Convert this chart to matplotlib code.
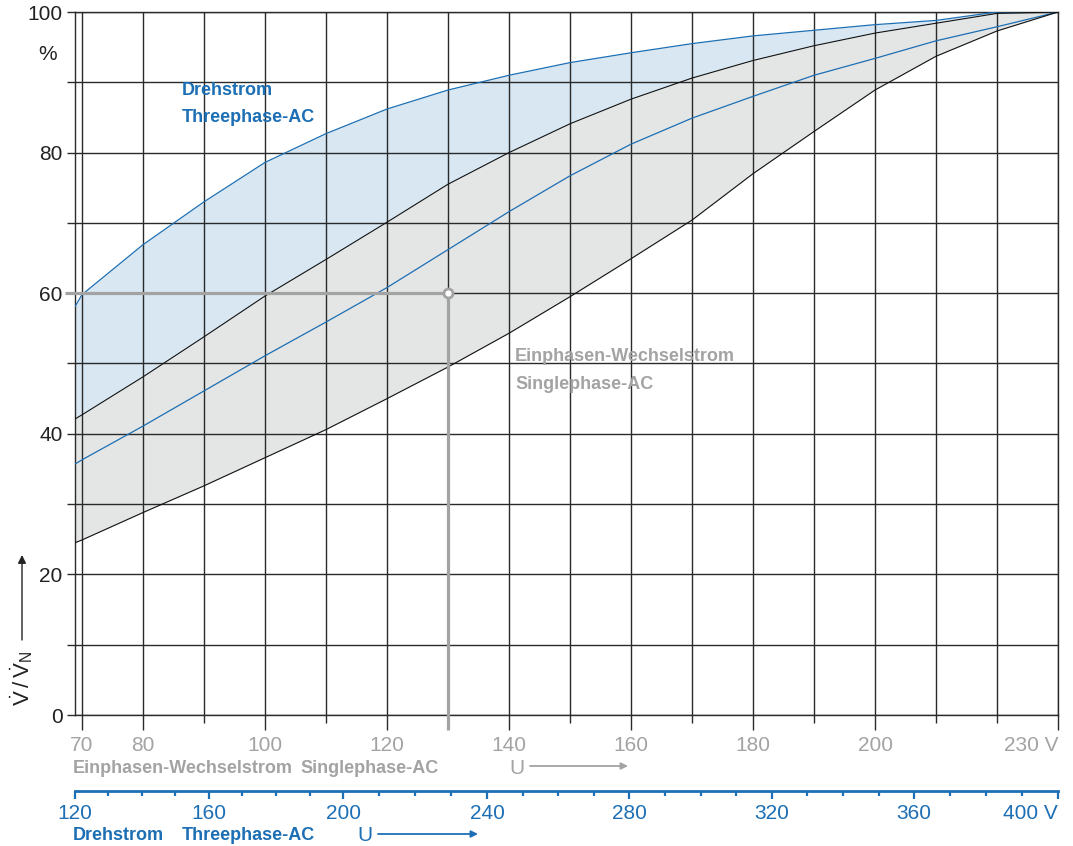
import numpy as np
import matplotlib
matplotlib.use("Agg")
import matplotlib.pyplot as plt
from matplotlib.ticker import FixedLocator, NullFormatter

plt.rcParams['font.family'] = ['Liberation Sans', 'DejaVu Sans']
plt.rcParams['mathtext.fontset'] = 'custom'
plt.rcParams['mathtext.rm'] = 'Liberation Sans'

# single-phase voltage (V); first point is the left edge of the chart
u = [68.85, 70, 80, 90, 100, 110, 120, 130, 140, 150, 160, 170, 180, 190, 200, 210, 220, 230]
dreh_upper = [58.1, 59.8, 66.9, 73.0, 78.6, 82.7, 86.2, 88.9, 91.0, 92.8, 94.2, 95.5, 96.6, 97.4, 98.2, 98.8, 100, 100]
dreh_lower = [35.7, 36.3, 41.1, 46.1, 51.1, 55.9, 60.8, 66.2, 71.6, 76.7, 81.2, 84.9, 88.0, 91.0, 93.4, 95.9, 97.9, 100]
ein_upper = [42.1, 42.7, 48.1, 53.8, 59.6, 64.8, 70.1, 75.5, 80.0, 84.1, 87.6, 90.6, 93.1, 95.2, 97.0, 98.4, 99.8, 100]
ein_lower = [24.5, 24.9, 28.8, 32.6, 36.6, 40.6, 45.0, 49.5, 54.3, 59.5, 64.9, 70.4, 77.0, 83.0, 88.9, 93.7, 97.3, 100]

# example reading
ref_u = 130
ref_pct = 60

u_major = [70, 80, 100, 120, 140, 160, 180, 200, 230]
u_labels = ['70', '80', '100', '120', '140', '160', '180', '200', '230 V']
u_minor = [90, 110, 130, 150, 170, 190, 210, 220]
dreh_ticks = [120, 160, 200, 240, 280, 320, 360, 400]
dreh_labels = ['120', '160', '200', '240', '280', '320', '360', '400 V']
dreh_pos = [68.85, 90.8, 112.8, 136.4, 159.7, 183.1, 206.4, 230]  # on single-phase scale
dreh_minor = list(range(130, 400, 10))

blue = '#1c6fb4'
gray = '#a3a3a3'
grid = '#2a2a2a'
W, H = 1073, 846
bold_size = 13

fig = plt.figure(figsize=(W / 100, H / 100), dpi=100)
ax = fig.add_axes([75 / W, 1 - 715 / H, (1058 - 75) / W, (715 - 12) / H])
ax.set_xlim(u[0], u[-1])
ax.set_ylim(0, 100)

ax.fill_between(u, ein_upper, dreh_upper, color='#d8e7f2', lw=0, zorder=0)
ax.fill_between(u, ein_lower, ein_upper, color='#e4e5e5', lw=0, zorder=0)
ax.plot(u, dreh_upper, color=blue, lw=0.9, zorder=3)
ax.plot(u, dreh_lower, color=blue, lw=0.9, zorder=3)
ax.plot(u, ein_upper, color='#111111', lw=0.8, zorder=3)
ax.plot(u, ein_lower, color='#111111', lw=0.8, zorder=3)

ax.set_axisbelow(True)
ax.set_xticks(u_major, u_labels)
ax.xaxis.set_minor_locator(FixedLocator(u_minor))
ax.set_yticks(range(0, 101, 20))
ax.yaxis.set_minor_locator(FixedLocator(range(10, 100, 20)))
ax.grid(True, which='both', color=grid, lw=1.0)
ax.tick_params(axis='x', which='major', length=11, width=1.0, color=grid, labelcolor=gray,
               labelsize=15, pad=4)
ax.tick_params(axis='x', which='minor', length=5.5, width=1.0, color=grid)
ax.tick_params(axis='y', which='both', length=6, width=1.0, color=grid, labelcolor='#222222',
               labelsize=15, pad=3)
for lab in ax.get_xticklabels():
    if lab.get_text().endswith('V'):
        lab.set_horizontalalignment('right')
for s in ax.spines.values():
    s.set_color(grid)
    s.set_linewidth(1.0)

# reference lines
x0 = u[0] - 10 / 6.1
ax.plot([x0, ref_u], [ref_pct, ref_pct], color=gray, lw=2.3, clip_on=False, zorder=4,
        solid_capstyle='butt')
ax.plot([ref_u, ref_u], [ref_pct, -2.2], color=gray, lw=2.3, clip_on=False, zorder=4,
        solid_capstyle='butt')
ax.plot([ref_u], [ref_pct], marker='o', ms=6.5, mfc='white', mec=gray, mew=2, zorder=5)

# three-phase scale
def to3(x):
    return np.interp(x, dreh_pos, dreh_ticks)

def to1(x):
    return np.interp(x, dreh_ticks, dreh_pos)

sec = ax.secondary_xaxis((715 - 791) / (715 - 12), functions=(to3, to1))
sec.set_xticks(dreh_ticks, dreh_labels)
sec.xaxis.set_minor_locator(FixedLocator(dreh_minor))
sec.xaxis.set_minor_formatter(NullFormatter())
sec.tick_params(axis='x', which='major', length=6, width=1.6, color=blue, labelcolor=blue,
                labelsize=15, pad=3)
sec.tick_params(axis='x', which='minor', length=3.5, width=1.6, color=blue)
sec.spines['bottom'].set_color(blue)
sec.spines['bottom'].set_linewidth(2)
for lab in sec.get_xticklabels():
    if lab.get_text().endswith('V'):
        lab.set_horizontalalignment('right')

ax.text(70 + (182 - 82) / 6.1, 86.9, 'Drehstrom\nThreephase-AC', color=blue, fontsize=bold_size,
        fontweight='bold', va='center', ha='left', linespacing=1.8)
ax.text(70 + (515 - 82) / 6.1, 49.0, 'Einphasen-Wechselstrom\nSinglephase-AC', color=gray,
        fontsize=bold_size, fontweight='bold', va='center', ha='left', linespacing=1.8)

def fx(px):
    return px / W

def fy(py):
    return 1 - py / H

fig.text(fx(48), fy(55), '%', fontsize=15, color='#222222', ha='center', va='center')
fig.text(fx(22), fy(678), r'$\dot{\mathrm{V}}\,/\,\dot{\mathrm{V}}_\mathrm{N}$', fontsize=16,
         color='#222222', rotation=90, ha='center', va='center')
ax.annotate('', xy=(fx(22), fy(555)), xytext=(fx(22), fy(640)), xycoords='figure fraction',
            arrowprops=dict(arrowstyle='-|>', color='#222222', lw=1.0, mutation_scale=12,
                            shrinkA=0, shrinkB=0))

fig.text(fx(73), fy(768), 'Einphasen-Wechselstrom', fontsize=bold_size, fontweight='bold',
         color=gray, va='center')
fig.text(fx(300), fy(768), 'Singlephase-AC', fontsize=bold_size, fontweight='bold', color=gray,
         va='center')
fig.text(fx(509), fy(768), 'U', fontsize=15, color=gray, va='center')
ax.annotate('', xy=(fx(628), fy(766)), xytext=(fx(530), fy(766)), xycoords='figure fraction',
            arrowprops=dict(arrowstyle='-|>', color=gray, lw=1.3, mutation_scale=10,
                            shrinkA=0, shrinkB=0))

fig.text(fx(73), fy(835), 'Drehstrom', fontsize=bold_size, fontweight='bold', color=blue,
         va='center')
fig.text(fx(182), fy(835), 'Threephase-AC', fontsize=bold_size, fontweight='bold', color=blue,
         va='center')
fig.text(fx(357), fy(835), 'U', fontsize=15, color=blue, va='center')
ax.annotate('', xy=(fx(478), fy(834)), xytext=(fx(378), fy(834)), xycoords='figure fraction',
            arrowprops=dict(arrowstyle='-|>', color=blue, lw=1.3, mutation_scale=10,
                            shrinkA=0, shrinkB=0))

fig.savefig('out.png', dpi=100)
